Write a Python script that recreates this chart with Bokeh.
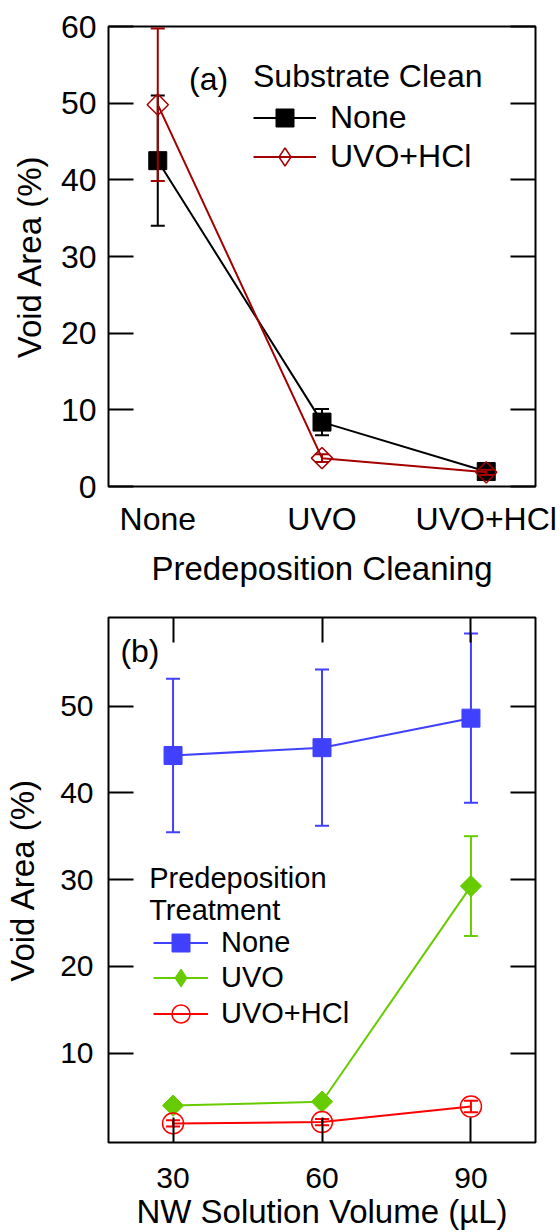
import numpy as np
from bokeh.plotting import figure
from bokeh.models import (Range1d, LinearAxis, FixedTicker, Whisker, TeeHead,
                          ColumnDataSource, Legend, LegendItem, Label,
                          CustomJSTickFormatter)
from bokeh.layouts import column
from bokeh.embed import file_html
from bokeh.resources import INLINE

FONT = "Liberation Sans"

# ---------------- data: panel (a) ----------------
cats_a = ["None", "UVO", "UVO+HCl"]
none_a = [42.5, 8.4, 1.95]
none_a_err = [8.5, 1.7, 0.4]
uvohcl_a = [49.8, 3.7, 1.85]
uvohcl_a_err = [9.95, 0.5, 0.35]
yticks_a = [0, 10, 20, 30, 40, 50, 60]

# ---------------- data: panel (b) ----------------
vol_b = [30, 60, 90]
none_b = [44.3, 45.2, 48.6]
none_b_err = [8.85, 9.0, 9.75]
uvo_b = [3.95, 4.4, 29.25]
uvo_b_err = [0.3, 0.3, 5.75]
uvohcl_b = [1.9, 2.05, 3.85]
uvohcl_b_err = [0.35, 0.35, 0.65]
yticks_b = [10, 20, 30, 40, 50]

BLACK = "#000000"
DARKRED = "#A50000"
BLUE = "#4040FF"
GREEN = "#66CC00"
RED = "#FF0000"


def src(x, y, e):
    return ColumnDataSource(dict(x=list(x), y=list(y),
                                 upper=[a + b for a, b in zip(y, e)],
                                 lower=[a - b for a, b in zip(y, e)]))


def whisker(p, s, color, level="underlay"):
    w = Whisker(source=s, base="x", upper="upper", lower="lower",
                line_color=color, line_width=2, level=level,
                upper_head=TeeHead(size=14, line_color=color, line_width=2),
                lower_head=TeeHead(size=14, line_color=color, line_width=2))
    p.add_layout(w)


def style_axis(ax, tick_len, label_size, title_size, label_standoff, title_standoff):
    ax.axis_line_color = None
    ax.major_tick_in = tick_len
    ax.major_tick_out = 0
    ax.minor_tick_in = 0
    ax.minor_tick_out = 0
    ax.major_tick_line_width = 2
    ax.major_tick_line_color = "black"
    ax.major_label_text_font = FONT
    ax.major_label_text_font_size = label_size
    ax.major_label_text_color = "black"
    ax.major_label_standoff = label_standoff
    ax.axis_label_text_font = FONT
    ax.axis_label_text_font_size = title_size
    ax.axis_label_text_font_style = "normal"
    ax.axis_label_text_color = "black"
    ax.axis_label_standoff = title_standoff


def blank_axis(ticks, tick_len):
    ax = LinearAxis(ticker=FixedTicker(ticks=ticks),
                    formatter=CustomJSTickFormatter(code="return ''"))
    ax.axis_line_color = None
    ax.major_tick_in = tick_len
    ax.major_tick_out = 0
    ax.minor_tick_in = 0
    ax.minor_tick_out = 0
    ax.major_tick_line_width = 2
    ax.major_label_standoff = 0
    return ax


def base_fig(w, h, xr, yr, bl, br, bt, bb):
    p = figure(width=w, height=h, x_range=xr, y_range=yr,
               output_backend="svg", toolbar_location=None,
               min_border_left=bl, min_border_right=br,
               min_border_top=bt, min_border_bottom=bb)
    p.grid.visible = False
    p.outline_line_color = "black"
    p.outline_line_width = 2
    p.outline_line_alpha = 1
    p.background_fill_color = "white"
    p.border_fill_color = "white"
    return p


def one_legend(p, label, renderers, loc, gw, size, standoff, title=None):
    kw = {}
    if title is not None:
        kw = dict(title=title, title_standoff=0, title_text_font=FONT,
                  title_text_font_size=size, title_text_font_style="normal",
                  title_text_color="black")
    leg = Legend(items=[LegendItem(label=label, renderers=renderers)],
                 location=loc, glyph_width=gw, glyph_height=45, label_height=45,
                 spacing=0, label_standoff=standoff, padding=0, margin=0,
                 border_line_color=None, background_fill_alpha=0,
                 label_text_font=FONT, label_text_font_size=size,
                 label_text_color="black", **kw)
    p.add_layout(leg)


def text(p, x, y, t, size):
    p.add_layout(Label(x=x, y=y, text=t, text_baseline="middle",
                       text_font=FONT, text_font_size=size, text_color="black"))


# ================= panel (a) =================
x_a = list(range(len(cats_a)))
p1 = base_fig(560, 600, Range1d(-0.3, 2.3), Range1d(0, 60), 108, 25, 26, 114)

s_none_a = src(x_a, none_a, none_a_err)
s_uh_a = src(x_a, uvohcl_a, uvohcl_a_err)

whisker(p1, s_none_a, BLACK)
l1 = p1.line("x", "y", source=s_none_a, line_color=BLACK, line_width=2)
m1 = p1.scatter("x", "y", source=s_none_a, marker="square", size=18,
                fill_color=BLACK, line_color=BLACK)
l2 = p1.line("x", "y", source=s_uh_a, line_color=DARKRED, line_width=2)
m2 = p1.scatter("x", "y", source=s_uh_a, marker="square", angle=np.pi / 4, size=15,
                fill_color=None, line_color=DARKRED, line_width=1.5)
m2_key = p1.scatter("x", "y", source=s_uh_a, marker="diamond", size=18,
                    fill_color=None, line_color=DARKRED, line_width=1.5, visible=False)
whisker(p1, s_uh_a, DARKRED, level="glyph")

xa = p1.xaxis[0]
xa.ticker = FixedTicker(ticks=x_a)
xa.major_label_overrides = {i: c for i, c in zip(x_a, cats_a)}
xa.axis_label = "Predeposition Cleaning"
style_axis(xa, 0, "32px", "33px", 14, 10)

ya = p1.yaxis[0]
ya.ticker = FixedTicker(ticks=yticks_a)
ya.axis_label = "Void Area (%)"
style_axis(ya, 25, "32px", "33px", 12, 10)

p1.add_layout(blank_axis(yticks_a, 25), "right")

one_legend(p1, "None", [l1, m1], (145, 346), 63, "32px", 14, title="Substrate Clean")
one_legend(p1, "UVO+HCl", [l2, m2_key], (145, 307), 63, "32px", 14)
text(p1, 0.19, 53.2, "(a)", "32px")

# ================= panel (b) =================
p2 = base_fig(560, 632, Range1d(17, 103), Range1d(-0.3, 60.2), 103, 17, 17, 88)

s_none_b = src(vol_b, none_b, none_b_err)
s_uvo_b = src(vol_b, uvo_b, uvo_b_err)
s_uh_b = src(vol_b, uvohcl_b, uvohcl_b_err)

whisker(p2, s_none_b, BLUE)
n1 = p2.line("x", "y", source=s_none_b, line_color=BLUE, line_width=2)
n2 = p2.scatter("x", "y", source=s_none_b, marker="square", size=18,
                fill_color=BLUE, line_color=BLUE)
whisker(p2, s_uvo_b, GREEN)
g1 = p2.line("x", "y", source=s_uvo_b, line_color=GREEN, line_width=2)
g2 = p2.scatter("x", "y", source=s_uvo_b, marker="square", angle=np.pi / 4, size=15,
                fill_color=GREEN, line_color=GREEN)
g2_key = p2.scatter("x", "y", source=s_uvo_b, marker="diamond", size=18,
                    fill_color=GREEN, line_color=GREEN, visible=False)
r1 = p2.line("x", "y", source=s_uh_b, line_color=RED, line_width=2)
r2 = p2.scatter("x", "y", source=s_uh_b, marker="circle", size=21,
                fill_color=None, line_color=RED, line_width=1.5)
r2_key = p2.scatter("x", "y", source=s_uh_b, marker="circle", size=18,
                    fill_color=None, line_color=RED, line_width=1.5, visible=False)
whisker(p2, s_uh_b, RED, level="glyph")

xb = p2.xaxis[0]
xb.ticker = FixedTicker(ticks=vol_b)
xb.axis_label = "NW Solution Volume (µL)"
style_axis(xb, 25, "30px", "33px", 25, 2)

yb = p2.yaxis[0]
yb.ticker = FixedTicker(ticks=yticks_b)
yb.axis_label = "Void Area (%)"
style_axis(yb, 25, "30px", "33px", 15, 16)

p2.add_layout(blank_axis(yticks_b, 25), "right")
p2.add_layout(blank_axis(vol_b, 25), "above")

one_legend(p2, "None", [n1, n2], (45, 177), 55, "29px", 13)
one_legend(p2, "UVO", [g1, g2_key], (45, 142), 55, "29px", 13)
one_legend(p2, "UVO+HCl", [r1, r2_key], (45, 106), 55, "29px", 13)
text(p2, 25.2, 30.15, "Predeposition", "29px")
text(p2, 25.2, 26.5, "Treatment", "29px")
text(p2, 19.4, 56.3, "(b)", "32px")

layout = column(p1, p2, spacing=0)
open("out.html", "w").write(file_html(layout, INLINE))
